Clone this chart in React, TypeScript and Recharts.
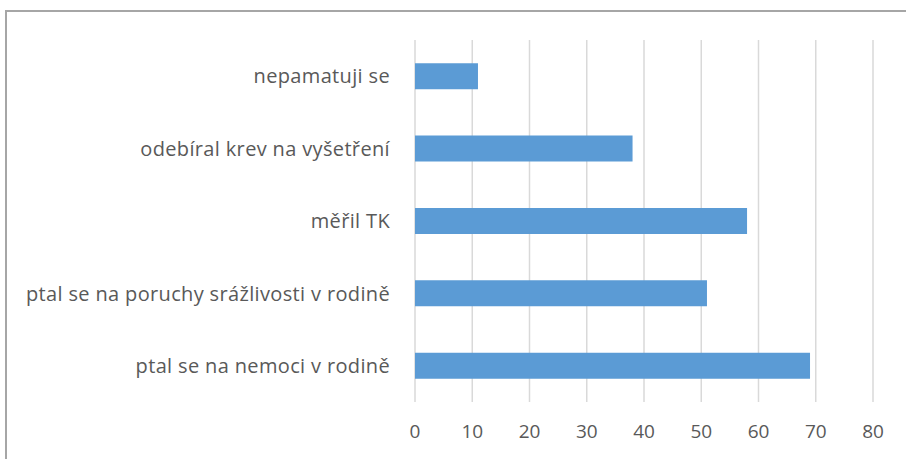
import { BarChart, Bar, XAxis, YAxis, CartesianGrid } from "recharts";

const categories = [
    "nepamatuji se",
    "odebíral krev na vyšetření",
    "měřil TK",
    "ptal se na poruchy srážlivosti v rodině",
    "ptal se na nemoci v rodině",
];
const values = [11, 38, 58, 51, 69];
const xTicks = [0, 10, 20, 30, 40, 50, 60, 70, 80];

const data = categories.map((name, i) => ({ name, value: values[i] }));

const font = "'Open Sans', sans-serif";

export default function App() {
    return (
        <div style={{ position: "fixed", left: 0, top: 0, width: 906, height: 459, background: "#fff", overflow: "hidden" }}>
            {/* frame */}
            <div
                style={{
                    position: "absolute",
                    left: 5,
                    top: 10,
                    width: 960,
                    height: 500,
                    border: "2px solid #a6a6a6",
                }}
            />
            <div style={{ position: "absolute", left: 0, top: 0 }}>
                <BarChart
                    width={906}
                    height={459}
                    data={data}
                    layout="vertical"
                    barCategoryGap="32%"
                    margin={{ top: 40, right: 33, left: 0, bottom: 27 }}
                >
                    <CartesianGrid
                        horizontal={false}
                        stroke="#d9d9d9"
                        strokeWidth={1.5}
                    />
                    <XAxis
                        type="number"
                        domain={[0, 80]}
                        ticks={xTicks}
                        height={30}
                        axisLine={false}
                        tickLine={false}
                        tickSize={0}
                        tickMargin={23}
                        tick={{ fill: "#595959", fontSize: 19, fontFamily: font }}
                    />
                    <YAxis
                        type="category"
                        dataKey="name"
                        width={415}
                        axisLine={false}
                        tickLine={false}
                        tickSize={0}
                        tickMargin={25}
                        tick={{ fill: "#595959", fontSize: 20, fontFamily: font, letterSpacing: 0.35 }}
                    />
                    <Bar
                        dataKey="value"
                        fill="#5b9bd5"
                        isAnimationActive={false}
                    />
                </BarChart>
            </div>
        </div>
    );
}
